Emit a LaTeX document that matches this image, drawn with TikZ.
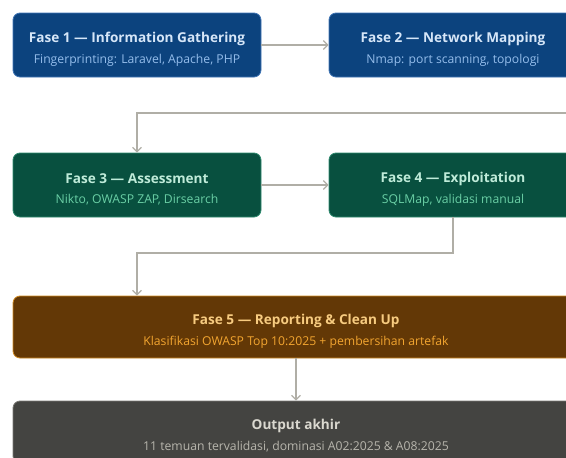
\documentclass[tikz,border=0pt]{standalone}
\usepackage{fontspec}
\setmainfont{Open Sans}
\usetikzlibrary{arrows.meta,positioning}

% phase palettes
\definecolor{blueFill}{HTML}{0C437E}
\definecolor{blueLine}{HTML}{3F74B4}
\definecolor{blueHead}{HTML}{D6E6F8}
\definecolor{blueSub}{HTML}{94BDEB}
\definecolor{greenFill}{HTML}{08503F}
\definecolor{greenLine}{HTML}{2E8A6E}
\definecolor{greenHead}{HTML}{BFEBD9}
\definecolor{greenSub}{HTML}{6ACFA5}
\definecolor{brownFill}{HTML}{633806}
\definecolor{brownLine}{HTML}{D08A22}
\definecolor{brownHead}{HTML}{F7CB80}
\definecolor{brownSub}{HTML}{F2A530}
\definecolor{grayFill}{HTML}{444441}
\definecolor{grayLine}{HTML}{7A7974}
\definecolor{grayHead}{HTML}{DAD8CF}
\definecolor{graySub}{HTML}{B7B5AC}
\definecolor{wire}{HTML}{B0AEA6}

\tikzset{
  phase/.style={rounded corners=7pt, line width=0.8pt, inner sep=0pt,
    minimum height=64pt, align=center},
  bluephase/.style={phase, fill=blueFill, draw=blueLine, minimum width=248pt},
  greenphase/.style={phase, fill=greenFill, draw=greenLine, minimum width=248pt},
  brownphase/.style={phase, fill=brownFill, draw=brownLine, minimum width=566pt, minimum height=62pt},
  grayphase/.style={phase, fill=grayFill, draw=grayLine, minimum width=566pt, minimum height=62pt},
  arr/.style={draw=wire, line width=1.4pt, -{Straight Barb[length=4.5pt,width=9pt,line width=1.2pt]}},
}

% two-line box text: bold heading over a lighter detail line
% (struts keep every box's text at the same height)
\newcommand{\phasetext}[4]{%
  {\color{#1}\fontsize{13.6}{15}\selectfont\bfseries\rule{0pt}{19.5pt}#3}\\[7.5pt]%
  {\color{#2}\fontsize{12.2}{13}\selectfont #4\rule[-3pt]{0pt}{3pt}}}

\begin{document}
\begin{tikzpicture}[x=1pt,y=-1pt]
  \useasboundingbox (0,0) rectangle (566,458);
  \clip (0,0) rectangle (566,458);

  % phases 1-4, two per row
  \node[bluephase] (f1) at (137,45)
    {\phasetext{blueHead}{blueSub}{Fase 1 — Information Gathering}{Fingerprinting: Laravel, Apache, PHP}};
  \node[bluephase] (f2) at (453,45)
    {\phasetext{blueHead}{blueSub}{Fase 2 — Network Mapping}{Nmap: port scanning, topologi}};
  \node[greenphase] (f3) at (137,185)
    {\phasetext{greenHead}{greenSub}{Fase 3 — Assessment}{Nikto, OWASP ZAP, Dirsearch}};
  \node[greenphase] (f4) at (453,185)
    {\phasetext{greenHead}{greenSub}{Fase 4 — Exploitation}{SQLMap, validasi manual}};

  % full-width phase 5 and result
  \node[brownphase] (f5) at (296,327)
    {\phasetext{brownHead}{brownSub}{Fase 5 — Reporting \& Clean Up}{Klasifikasi OWASP Top 10:2025 + pembersihan artefak}};
  \node[grayphase] (out) at (296,432)
    {\phasetext{grayHead}{graySub}{Output akhir}{11 temuan tervalidasi, dominasi A02:2025 \& A08:2025}};

  % connectors
  \coordinate (turn1) at (592,113);
  \coordinate (turn2) at (453,253);
  \draw[arr] (f1.east) -- (f2.west);
  \draw[arr] (f2.east) -| (turn1) -- (turn1 -| f3.north) -- (f3.north);
  \draw[arr] (f3.east) -- (f4.west);
  \draw[arr] (f4.south) -- (turn2) -| (f3.south |- f5.north);
  \draw[arr] (f5.south) -- (out.north);
\end{tikzpicture}
\end{document}
